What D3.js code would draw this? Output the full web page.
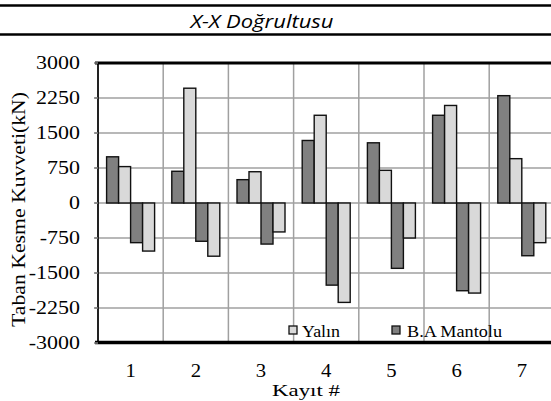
<!DOCTYPE html>
<html><head><meta charset="utf-8">
<script src="https://cdn.jsdelivr.net/npm/d3@7"></script>
<style>body{margin:0;background:#fff}svg{display:block}.sf{font-family:"Liberation Serif","Times New Roman",serif}</style>
</head><body>
<script>
const categories = ["1","2","3","4","5","6","7"];
const mantoluMax = [990, 680, 500, 1340, 1290, 1880, 2300];
const yalinMax   = [780, 2460, 670, 1880, 700, 2090, 950];
const mantoluMin = [-850, -820, -880, -1760, -1400, -1880, -1130];
const yalinMin   = [-1030, -1140, -620, -2130, -750, -1930, -850];
const yTicks = [-3000, -2250, -1500, -750, 0, 750, 1500, 2250, 3000];
const titleText = "X-X Doğrultusu";
const yTitle = "Taban Kesme Kuvveti(kN)";
const xTitle = "Kayıt #";
const legendNames = ["Yalın", "B.A Mantolu"];

const W = 551, H = 401;
const svg = d3.select("body").append("svg").attr("width", W).attr("height", H);

function stretch(sel, f){ sel.each(function(){ const l=this.getComputedTextLength(); d3.select(this).attr("textLength", l*f).attr("lengthAdjust","spacingAndGlyphs"); }); }

// title band
svg.append("line").attr("x1",0).attr("x2",W).attr("y1",5.5).attr("y2",5.5).attr("stroke","#000").attr("stroke-width",2.5);
svg.append("line").attr("x1",0).attr("x2",W).attr("y1",34.5).attr("y2",34.5).attr("stroke","#000").attr("stroke-width",2.5);
svg.append("text").attr("x",262).attr("y",28).attr("text-anchor","middle")
  .style("font-family","'Open Sans','Noto Sans',sans-serif").attr("font-style","italic").attr("font-size",18)
  .attr("textLength",143).attr("lengthAdjust","spacingAndGlyphs").text(titleText);

const x = d3.scaleBand().domain(categories).range([98, 98 + 7*65.2]).padding(0);
const bw = x.bandwidth();
const sub = d3.scaleBand().domain([0,1,2,3]).range([bw/2-24, bw/2+24]).padding(0);
const y = d3.scaleLinear().domain([-3000, 3000]).range([343, 63]);

// horizontal grid
svg.append("g").selectAll("line").data(yTicks.filter(t=>t>-3000 && t<3000)).join("line")
  .attr("x1",95).attr("x2",W).attr("y1",d=>y(d)).attr("y2",d=>y(d))
  .attr("stroke","#a0a0a0").attr("stroke-width",1.5);
// vertical grid
const bounds = categories.map(c=>x(c)).concat([x.range()[1]]);
svg.append("g").selectAll("line").data(bounds.slice(1)).join("line")
  .attr("x1",d=>d).attr("x2",d=>d).attr("y1",63).attr("y2",343)
  .attr("stroke","#a0a0a0").attr("stroke-width",1.5);

// bars
const series = [
  {vals: mantoluMax, fill:"#808080"},
  {vals: yalinMax, fill:"#d9d9d9"},
  {vals: mantoluMin, fill:"#808080"},
  {vals: yalinMin, fill:"#d9d9d9"}
];
const bars = [];
categories.forEach((c,i)=>series.forEach((s,j)=>bars.push({c, j, v:s.vals[i], fill:s.fill})));
svg.append("g").selectAll("rect").data(bars).join("rect")
  .attr("x",d=>x(d.c)+sub(d.j)).attr("width",sub.bandwidth())
  .attr("y",d=>y(Math.max(0,d.v))).attr("height",d=>Math.abs(y(d.v)-y(0)))
  .attr("fill",d=>d.fill).attr("stroke","#111").attr("stroke-width",1.4);

// axes frame
svg.append("line").attr("x1",98).attr("x2",98).attr("y1",62).attr("y2",344).attr("stroke","#222").attr("stroke-width",2);
svg.append("line").attr("x1",95).attr("x2",W).attr("y1",63).attr("y2",63).attr("stroke","#000").attr("stroke-width",3);
svg.append("line").attr("x1",95).attr("x2",W).attr("y1",342.5).attr("y2",342.5).attr("stroke","#000").attr("stroke-width",3.5);
// small tick marks
svg.append("g").selectAll("line").data(yTicks).join("line")
  .attr("x1",94).attr("x2",98).attr("y1",d=>y(d)).attr("y2",d=>y(d)).attr("stroke","#808080").attr("stroke-width",1.5);

// y tick labels
const yl = svg.append("g").selectAll("text").data(yTicks).join("text").attr("class","sf")
  .attr("x",80).attr("y",d=>y(d)+6).attr("text-anchor","end")
  .attr("font-size",18).text(d=>d);
stretch(yl, 1.22);

// x tick labels
const xl = svg.append("g").selectAll("text").data(categories).join("text").attr("class","sf")
  .attr("x",d=>x(d)+bw/2).attr("y",377).attr("text-anchor","middle")
  .attr("font-size",18).text(d=>d);
stretch(xl, 1.15);

// axis titles
svg.append("text").attr("class","sf").attr("x",306).attr("y",396).attr("text-anchor","middle")
  .attr("font-size",17)
  .attr("textLength",68).attr("lengthAdjust","spacingAndGlyphs").text(xTitle);
svg.append("text").attr("class","sf").attr("transform","translate(25,209.5) rotate(-90)").attr("text-anchor","middle")
  .attr("font-size",18)
  .attr("textLength",235).attr("lengthAdjust","spacingAndGlyphs").text(yTitle);

// legend
const leg = [{name:legendNames[0], fill:"#d9d9d9", sx:289, tx:302, tl:38},
             {name:legendNames[1], fill:"#808080", sx:392, tx:407, tl:95}];
leg.forEach(l=>{
  svg.append("rect").attr("x",l.sx).attr("y",326).attr("width",8).attr("height",8)
    .attr("fill",l.fill).attr("stroke","#111").attr("stroke-width",1.3);
  svg.append("text").attr("class","sf").attr("x",l.tx).attr("y",337).attr("font-size",16)
    .attr("textLength",l.tl).attr("lengthAdjust","spacingAndGlyphs").text(l.name);
});
</script>
</body></html>
